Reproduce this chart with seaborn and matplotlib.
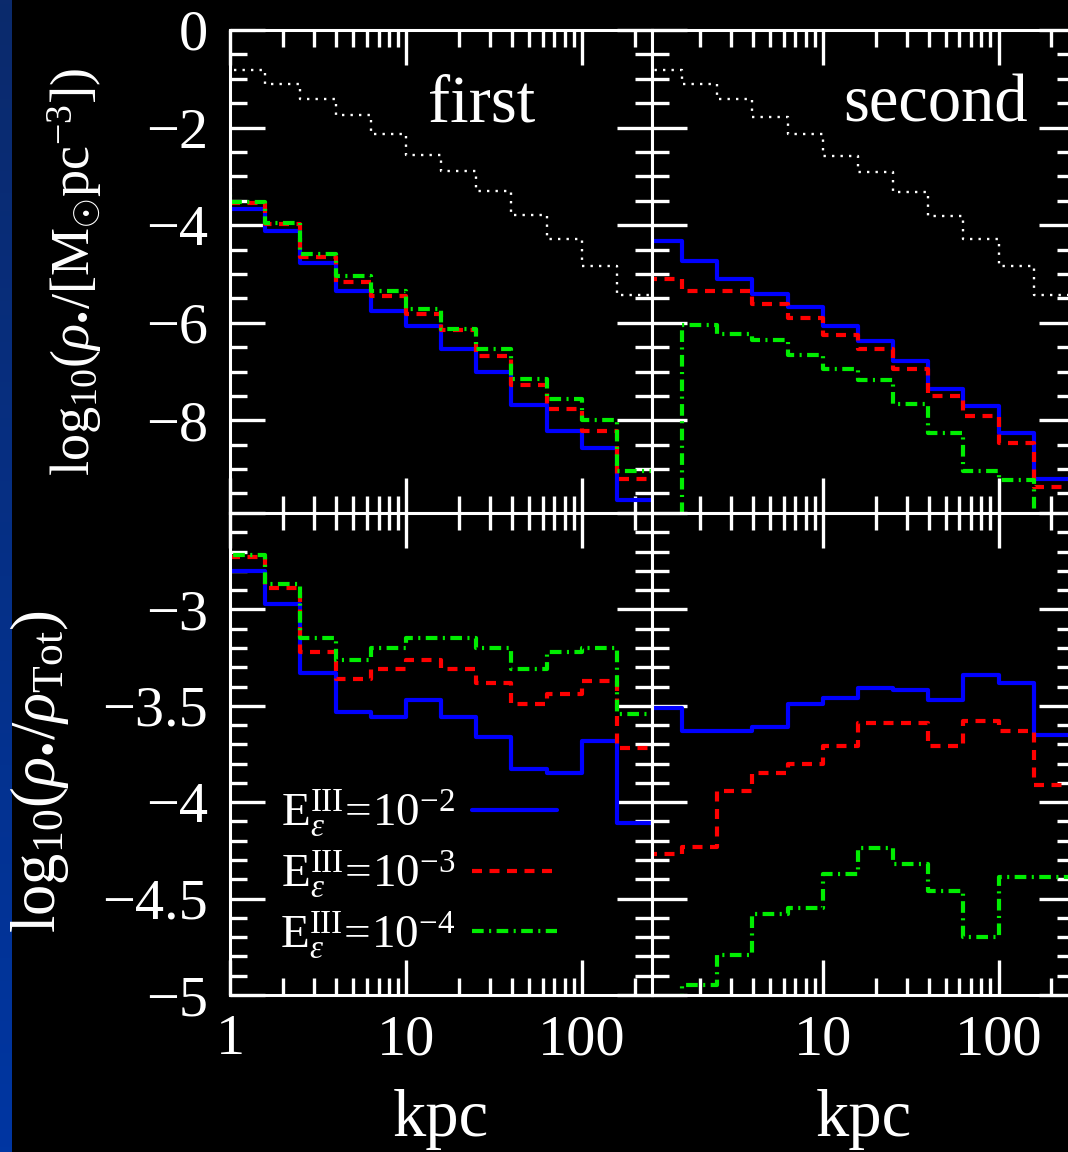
import numpy as np
import matplotlib
matplotlib.use("Agg")
import matplotlib.pyplot as plt
import seaborn as sns
from matplotlib.ticker import FixedLocator, FixedFormatter, MultipleLocator, LogLocator, NullFormatter
from matplotlib.lines import Line2D

# Radial bins, 0.2 dex wide (edges in log10 r/kpc); the first bin sits just inside 1 kpc
log_edges = np.round(np.arange(-0.2, 2.41, 0.2), 1)
r_edges = 10.0 ** log_edges

# log10(rho / [Msun pc^-3]) -- total density and stellar density for three efficiencies
first_tot = [-0.57, -0.82, -1.10, -1.41, -1.75, -2.13, -2.57, -2.88, -3.29, -3.80, -4.28, -4.83, -5.44]
first_e2 = [-3.66, -3.66, -4.11, -4.77, -5.35, -5.76, -6.06, -6.53, -7.02, -7.69, -8.21, -8.57, -9.64]
first_e3 = [-3.55, -3.55, -3.97, -4.65, -5.17, -5.46, -5.82, -6.14, -6.69, -7.28, -7.76, -8.21, -9.20]
first_e4 = [-3.23, -3.53, -3.95, -4.59, -5.05, -5.35, -5.71, -6.12, -6.53, -7.15, -7.56, -8.00, -9.04]

second_tot = [-0.82, -0.82, -1.10, -1.41, -1.79, -2.13, -2.59, -2.91, -3.32, -3.82, -4.28, -4.83, -5.44]
second_e2 = [-4.33, -4.33, -4.74, -5.10, -5.41, -5.67, -6.07, -6.38, -6.79, -7.35, -7.71, -8.27, -9.20]
second_e3 = [-5.10, -5.10, -5.35, -5.35, -5.61, -5.90, -6.26, -6.53, -6.94, -7.50, -7.91, -8.47, -9.37]
second_e4 = [-11.0, -11.0, -6.05, -6.23, -6.36, -6.67, -6.94, -7.18, -7.66, -8.25, -9.03, -9.23, -10.0]

# log10(rho_* / rho_Tot)
first_f2 = [-2.80, -2.80, -2.97, -3.33, -3.53, -3.56, -3.47, -3.56, -3.66, -3.83, -3.85, -3.68, -4.11]
first_f3 = [-2.73, -2.73, -2.89, -3.22, -3.36, -3.31, -3.26, -3.31, -3.38, -3.49, -3.44, -3.37, -3.72]
first_f4 = [-2.66, -2.72, -2.87, -3.15, -3.26, -3.20, -3.15, -3.15, -3.20, -3.31, -3.22, -3.20, -3.54]

second_f2 = [-3.51, -3.51, -3.63, -3.63, -3.61, -3.49, -3.46, -3.41, -3.42, -3.47, -3.34, -3.38, -3.65]
second_f3 = [-4.27, -4.27, -4.23, -3.94, -3.85, -3.80, -3.71, -3.59, -3.59, -3.71, -3.58, -3.63, -3.91]
second_f4 = [-10.2, -10.2, -4.95, -4.79, -4.58, -4.55, -4.37, -4.24, -4.32, -4.46, -4.70, -4.39, -4.39]

panel_names = ["first", "second"]
eff_labels = [r"$\mathrm{E}^{\rm III}_{\epsilon}\!=\!10^{-2}$",
              r"$\mathrm{E}^{\rm III}_{\epsilon}\!=\!10^{-3}$",
              r"$\mathrm{E}^{\rm III}_{\epsilon}\!=\!10^{-4}$"]
x_ticks = [1, 10, 100]
x_tick_labels = ["1", "10", "100"]
top_ticks = [0, -2, -4, -6, -8]
top_tick_labels = ["0", "\u22122", "\u22124", "\u22126", "\u22128"]
bottom_ticks = [-5, -4.5, -4, -3.5, -3, -2.5]
bottom_tick_labels = ["\u22125", "\u22124.5", "\u22124", "\u22123.5", "\u22123", ""]
star = "\u2022"
density_label = r"$\mathrm{log}_{10}(\rho_{\mathrm{" + star + r"}}/[\mathrm{M}_{\odot}\mathrm{pc}^{-3}])$"
fraction_label = r"$\mathrm{log}_{10}(\rho_{\mathrm{" + star + r"}}/\rho_{\mathrm{Tot}})$"

sns.set_theme(style="ticks")
plt.rcParams.update({
    "font.family": ["Liberation Serif", "DejaVu Serif"],
    "mathtext.fontset": "custom",
    "mathtext.rm": "Liberation Serif",
    "mathtext.it": "Liberation Serif:italic",
    "mathtext.bf": "Liberation Serif:bold",
    "axes.unicode_minus": True,
    "figure.facecolor": "black",
    "axes.facecolor": "black",
    "text.color": "white",
})

W, H = 1068, 1152
fig = plt.figure(figsize=(W / 100, H / 100), dpi=100)

# blue strip along the left edge
strip = fig.add_axes([0, 0, 12 / W, 1])
grad = np.linspace(0, 1, 256).reshape(-1, 1)
strip.imshow(grad, aspect="auto", cmap=matplotlib.colors.LinearSegmentedColormap.from_list(
    "strip", ["#0b2a6c", "#0036a2"]), extent=[0, 1, 0, 1], origin="upper")
strip.set_axis_off()

def ax_rect(x0, y0, x1, y1):
    return [x0 / W, 1 - y1 / H, (x1 - x0) / W, (y1 - y0) / H]

ax_tl = fig.add_axes(ax_rect(230, 30, 652, 513))
ax_tr = fig.add_axes(ax_rect(652, 30, 1074, 513))
ax_bl = fig.add_axes(ax_rect(230, 513, 652, 995))
ax_br = fig.add_axes(ax_rect(652, 513, 1074, 995))

styles = [
    dict(color="#0000ff", lw=3.0, linestyle="-"),
    dict(color="#ff0000", lw=3.0, linestyle=(0, (2.4, 1.8))),
    dict(color="#00ee00", lw=3.0, linestyle=(0, (2.8, 1.3, 0.5, 1.3))),
]
tot_style = dict(color="white", lw=1.7, linestyle=(0, (1, 2.6)))

def stairs(ax, values, **kw):
    y = list(values) + [values[-1]]
    sns.lineplot(x=r_edges, y=y, ax=ax, estimator=None, sort=False,
                 drawstyle="steps-post", **kw)

for ax in (ax_tl, ax_tr, ax_bl, ax_br):
    ax.set_xscale("log")
    ax.set_facecolor("black")
    for s in ax.spines.values():
        s.set_color("white")
        s.set_linewidth(2.2)

ax_tl.set_xlim(1.0, 10 ** 2.4)
ax_bl.set_xlim(1.0, 10 ** 2.4)
ax_tr.set_xlim(1.07, 1.07 * 10 ** 2.4)
ax_br.set_xlim(1.07, 1.07 * 10 ** 2.4)
for ax in (ax_tl, ax_tr):
    ax.set_ylim(-9.9, 0)
for ax in (ax_bl, ax_br):
    ax.set_ylim(-5, -2.5)

stairs(ax_tl, first_tot, **tot_style)
stairs(ax_tr, second_tot, **tot_style)
for vals, st in zip((first_e2, first_e3, first_e4), styles):
    stairs(ax_tl, vals, **st)
for vals, st in zip((second_e2, second_e3, second_e4), styles):
    stairs(ax_tr, vals, **st)
for vals, st in zip((first_f2, first_f3, first_f4), styles):
    stairs(ax_bl, vals, **st)
for vals, st in zip((second_f2, second_f3, second_f4), styles):
    stairs(ax_br, vals, **st)

tick_fs = 42
for ax in (ax_tl, ax_tr, ax_bl, ax_br):
    ax.xaxis.set_major_locator(FixedLocator(x_ticks))
    ax.xaxis.set_major_formatter(FixedFormatter(x_tick_labels))
    ax.xaxis.set_minor_locator(LogLocator(base=10, subs=np.arange(2, 10)))
    ax.xaxis.set_minor_formatter(NullFormatter())
    ax.tick_params(which="both", direction="in", top=True, right=True, bottom=True, left=True,
                   color="white", width=2.4, labelcolor="white", labelsize=tick_fs)
    ax.tick_params(which="major", length=25)
    ax.tick_params(which="minor", length=12)
    ax.tick_params(axis="x", pad=14)
    ax.tick_params(axis="y", pad=16)
    ax.set_xlabel("")
    ax.set_ylabel("")

for ax in (ax_tl, ax_tr):
    ax.yaxis.set_major_locator(FixedLocator(top_ticks))
    ax.yaxis.set_minor_locator(MultipleLocator(0.5))
    ax.tick_params(axis="x", labelbottom=False)
for ax in (ax_bl, ax_br):
    ax.yaxis.set_major_locator(FixedLocator(bottom_ticks))
    ax.yaxis.set_minor_locator(MultipleLocator(0.1))
ax_tl.yaxis.set_major_formatter(FixedFormatter(top_tick_labels))
ax_bl.yaxis.set_major_formatter(FixedFormatter(bottom_tick_labels))
for ax in (ax_tr, ax_br):
    ax.tick_params(axis="y", labelleft=False)

# panel names
ax_tl.text(0.597, 0.845, panel_names[0], transform=ax_tl.transAxes, ha="center", va="center",
           fontsize=48, color="white")
ax_tr.text(0.673, 0.845, panel_names[1], transform=ax_tr.transAxes, ha="center", va="center",
           fontsize=48, color="white")

# legend with the line sample after the text
handles = [Line2D([], [], **st) for st in styles]
leg = ax_bl.legend(handles, eff_labels, loc="lower left", bbox_to_anchor=(0.063, 0.022),
                   markerfirst=False, frameon=False, fontsize=34, handlelength=1.8,
                   handletextpad=0.35, labelspacing=0.2, borderpad=0.0)
for t in leg.get_texts():
    t.set_color("white")

# axis titles
fig.text(75 / W, 1 - 272 / H, density_label,
         rotation=90, ha="center", va="center", fontsize=39, color="white")
fig.text(40 / W, 1 - 772 / H, fraction_label,
         rotation=90, ha="center", va="center", fontsize=45, color="white")
fig.text(441 / W, 1 - 1120 / H, "kpc", ha="center", va="center", fontsize=48, color="white")
fig.text(864 / W, 1 - 1120 / H, "kpc", ha="center", va="center", fontsize=48, color="white")

fig.savefig("out.png", dpi=100, facecolor="black")
